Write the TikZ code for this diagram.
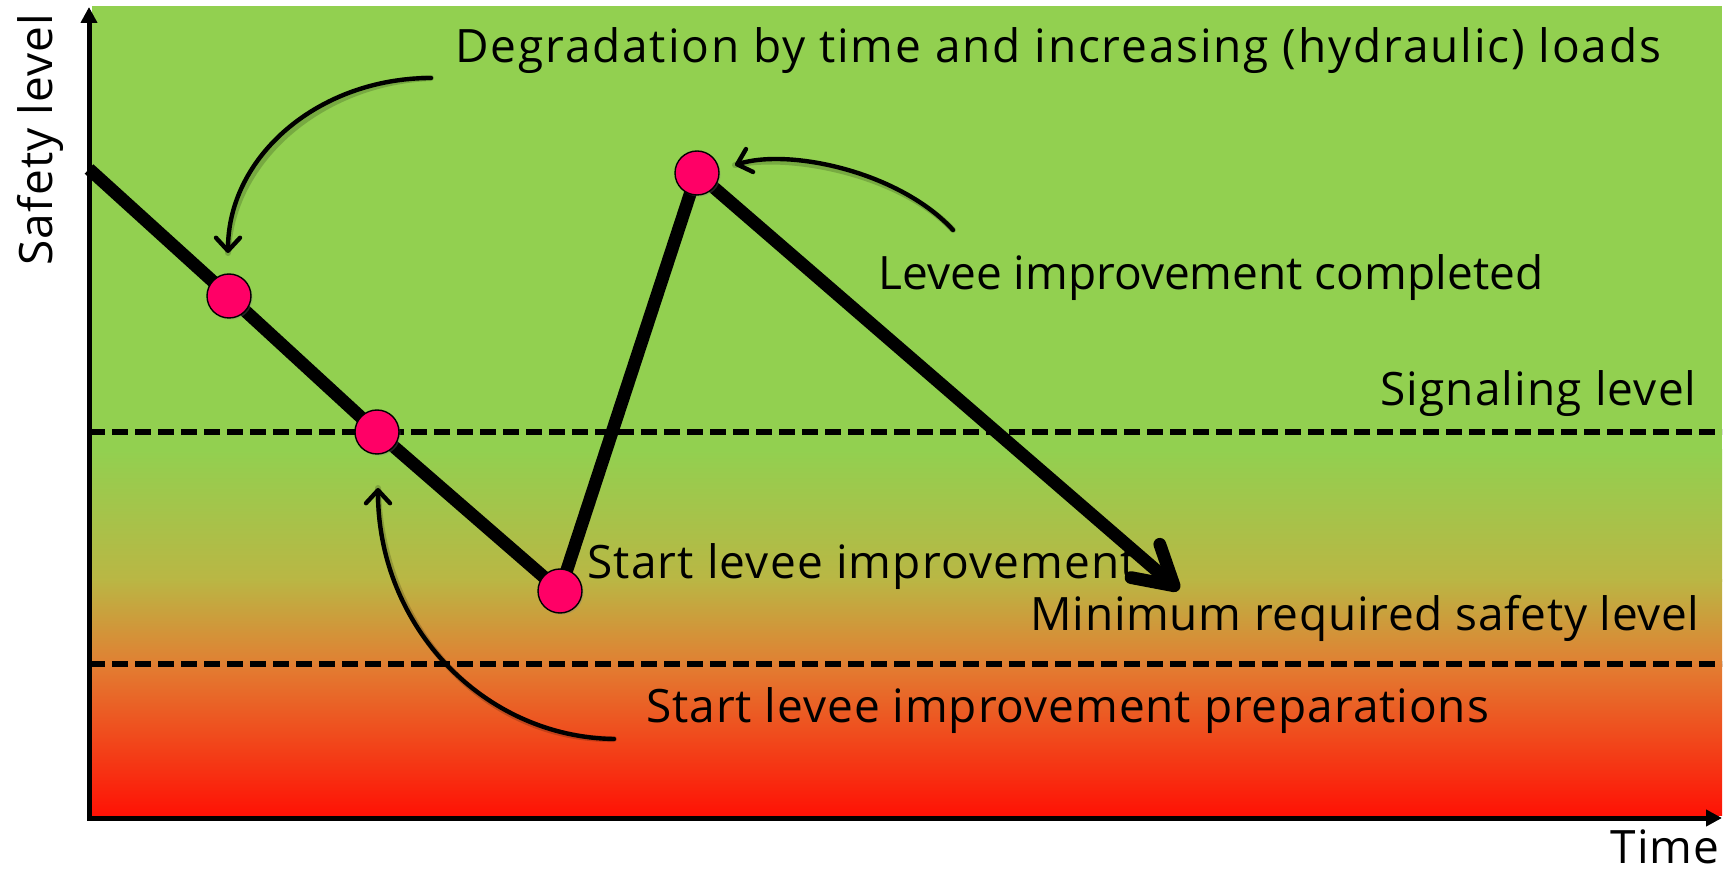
\documentclass[tikz,border=0pt]{standalone}
\usepackage{fontspec}
\setmainfont[LetterSpace=2.5]{Open Sans}
\usetikzlibrary{arrows.meta,shadows}
\definecolor{bggreen}{RGB}{146,208,80}
\definecolor{bgolive}{RGB}{186,182,68}
\definecolor{bgorange}{RGB}{226,126,50}
\definecolor{bgred}{RGB}{255,18,5}
\definecolor{dotpink}{RGB}{255,0,102}
\begin{document}
\begin{tikzpicture}[x=0.5pt,y=-0.5pt,
  lbl/.style={font=\fontsize{23}{27}\selectfont, inner sep=0pt},
  mainline/.style={line width=6.4pt, line join=round},
  levelline/.style={line width=2.8pt, dash pattern=on 8pt off 3.5pt},
  pointer/.style={line width=2.2pt, line cap=round, -{Straight Barb[length=6.5pt,width=12pt,round]}},
  pshadow/.style={line width=3pt, line cap=round, black, opacity=0.18},
  dot/.style={circle, fill=dotpink, draw=black, line width=0.7pt, minimum size=22pt, inner sep=0pt,
    drop shadow={opacity=0.3,shadow xshift=0.8pt,shadow yshift=-0.8pt}},
  axisline/.style={line width=2.5pt, line join=miter, {Triangle[length=8pt,width=8pt]}-{Triangle[length=8pt,width=8pt]}}]
\useasboundingbox (0,0) rectangle (1736,871);
% background
\fill[bggreen] (92,6) rectangle (1722,452);
\shade[top color=bggreen, bottom color=bgolive] (92,450) rectangle (1722,582);
\shade[top color=bgolive, bottom color=bgorange] (92,580) rectangle (1722,666);
\shade[top color=bgorange, bottom color=bgred] (92,664) rectangle (1722,815);
% coordinates
\coordinate (O) at (89,818);
\coordinate (Ytop) at (89,7);
\coordinate (Xend) at (1722,818);
\coordinate (sigL) at (89,432);
\coordinate (sigR) at (1722,432);
\coordinate (minL) at (89,664);
\coordinate (minR) at (1722,664);
\coordinate (c0) at (89,169);
\coordinate (c1) at (229,296);
\coordinate (c2) at (377,432);
\coordinate (c3) at (560,591);
\coordinate (c4) at (697,173);
\coordinate (tip) at (1179,590);
% level lines
\draw[levelline] (sigL) -- (sigR);
\draw[levelline] (minL) -- (minR);
% axes
\draw[axisline] (Ytop) -- (O) -- (Xend);
% safety curve
\draw[mainline] (c0) -- (c1) -- (c2) -- (c3) -- (c4);
\draw[mainline, -{Straight Barb[length=19pt,width=22pt,round]}] (c4) -- (tip);
\node[dot] (d1) at (c1) {};
\node[dot] (d2) at (c2) {};
\node[dot] (d3) at (c3) {};
\node[dot] (d4) at (c4) {};
% labels
\node[lbl, anchor=base west] (tDeg) at (455,63) {\addfontfeature{LetterSpace=4}Degradation by time and increasing (hydraulic) loads};
\node[lbl, anchor=base west] (tDone) at (878,290) {\addfontfeature{LetterSpace=0}Levee improvement completed};
\node[lbl, anchor=base east] (tSig) at (1697,406) {Signaling level};
\node[lbl, anchor=base west] (tStart) at (587,579) {Start levee improvement};
\node[lbl, anchor=base east] (tMin) at (1700,631) {\addfontfeature{LetterSpace=1.5}Minimum required safety level};
\node[lbl, anchor=base west] (tPrep) at (646,722) {\addfontfeature{LetterSpace=2}Start levee improvement preparations};
\node[lbl, anchor=base east] (tTime) at (1720,863) {Time};
\node[lbl, rotate=90, anchor=base west] (tSafe) at (52,266) {Safety level};
% pointers
\coordinate (a1s) at (431,78);
\coordinate (a1e) at (228,253);
\coordinate (a2s) at (953,230);
\coordinate (a2e) at (735,165);
\coordinate (a3s) at (614,739);
\coordinate (a3e) at (378,488);
\begin{scope}[shift={(3,4)}]
\draw[pshadow] (a1s) .. controls (319,78) and (228,156) .. (a1e);
\draw[pshadow] (a2s) .. controls (900,172) and (790,148) .. (a2e);
\draw[pshadow] (a3s) .. controls (484,737) and (378,627) .. (a3e);
\end{scope}
\draw[pointer] (a1s) .. controls (319,78) and (228,156) .. (a1e);
\draw[pointer] (a2s) .. controls (900,172) and (790,148) .. (a2e);
\draw[pointer] (a3s) .. controls (484,737) and (378,627) .. (a3e);
\end{tikzpicture}
\end{document}
